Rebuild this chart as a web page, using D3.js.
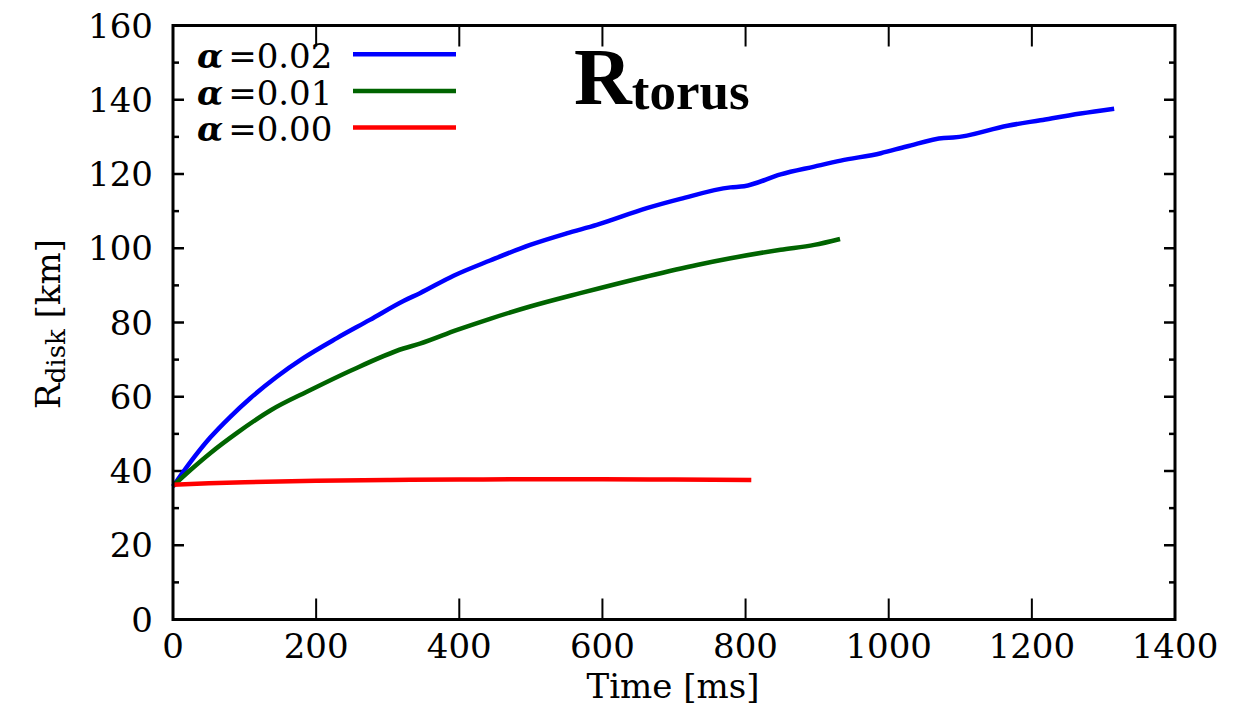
<!DOCTYPE html>
<html>
<head>
<meta charset="utf-8">
<script src="https://cdn.jsdelivr.net/npm/d3@7"></script>
<style>
  html, body { margin: 0; padding: 0; background: #fff; }
  svg { display: block; }
  text { font-family: "DejaVu Serif", serif; fill: #000; }
</style>
</head>
<body>
<svg id="chart" width="1242" height="707"></svg>
<script>
// ---- data ----
const alpha002 = [
  [0, 35.8], [24, 42.3], [52, 49.0], [80, 54.6], [108, 59.6], [145, 65.4],
  [182, 70.4], [229, 75.8], [275, 80.7], [322, 85.8], [345, 87.9], [392, 92.6],
  [443, 96.7], [499, 100.9], [550, 104.0], [592, 106.3], [662, 110.8],
  [709, 113.3], [779, 116.4], [798, 116.7], [849, 119.9], [896, 122.0], [933, 123.6],
  [989, 125.6], [1025, 127.4], [1077, 129.7], [1090, 129.8], [1166, 133.0],
  [1212, 134.5], [1268, 136.3], [1315, 137.6]
];
const alpha001 = [
  [0, 36.0], [24, 40.2], [52, 44.8], [89, 50.2], [136, 56.3], [192, 61.8], [248, 67.0],
  [322, 73.0], [345, 74.3], [397, 78.0], [443, 81.0], [499, 84.3],
  [569, 87.9], [662, 92.4], [732, 95.5], [779, 97.3], [849, 99.6], [896, 100.9],
  [932, 102.5]
];
const alpha000 = [
  [0, 36.3], [50, 36.7], [100, 37.0], [200, 37.4], [300, 37.6], [400, 37.7],
  [500, 37.8], [600, 37.8], [700, 37.7], [808, 37.6]
];
const seriesNames = ["\u03b1", "\u03b1", "\u03b1"];
const seriesValues = ["=0.02", "=0.01", "=0.00"];
const seriesColors = ["#0000ff", "#006400", "#ff0000"];
const xTicks = [0, 200, 400, 600, 800, 1000, 1200, 1400];
const yTicks = [0, 20, 40, 60, 80, 100, 120, 140, 160];
const yMinorTicks = d3.range(0, 161, 10);
const xLabel = "Time [ms]";
const yLabelMain = "R";
const yLabelSub = "disk";
const yLabelUnit = " [km]";
const titleMain = "R";
const titleSub = "torus";

const series = [alpha002, alpha001, alpha000];

// ---- layout ----
const svg = d3.select("#chart");
const L = 173, R = 1175, T = 25.5, B = 619.5;
const x = d3.scaleLinear().domain([0, 1400]).range([L, R]);
const y = d3.scaleLinear().domain([0, 160]).range([B, T]);

const ax = svg.append("g");

// minor y ticks (left & right, inward)
const minor = yMinorTicks.filter(v => v % 20 !== 0);
ax.selectAll("line.ymnl").data(minor).join("line")
  .attr("x1", L).attr("x2", L + 6).attr("y1", d => y(d)).attr("y2", d => y(d))
  .attr("stroke", "#000").attr("stroke-width", 2.5);
ax.selectAll("line.ymnr").data(minor).join("line")
  .attr("x1", R).attr("x2", R - 6).attr("y1", d => y(d)).attr("y2", d => y(d))
  .attr("stroke", "#000").attr("stroke-width", 2.5);
// major y ticks
ax.selectAll("line.ymjl").data(yTicks).join("line")
  .attr("x1", L).attr("x2", L + 11).attr("y1", d => y(d)).attr("y2", d => y(d))
  .attr("stroke", "#000").attr("stroke-width", 2.5);
ax.selectAll("line.ymjr").data(yTicks).join("line")
  .attr("x1", R).attr("x2", R - 11).attr("y1", d => y(d)).attr("y2", d => y(d))
  .attr("stroke", "#000").attr("stroke-width", 2.5);
// major x ticks bottom & top
ax.selectAll("line.xb").data(xTicks).join("line")
  .attr("x1", d => x(d)).attr("x2", d => x(d)).attr("y1", B).attr("y2", B - 21)
  .attr("stroke", "#000").attr("stroke-width", 2);
ax.selectAll("line.xt").data(xTicks).join("line")
  .attr("x1", d => x(d)).attr("x2", d => x(d)).attr("y1", T).attr("y2", T + 21)
  .attr("stroke", "#000").attr("stroke-width", 2);

// tick labels
ax.selectAll("text.yl").data(yTicks).join("text")
  .attr("x", 153).attr("y", d => y(d)).attr("dy", "0.36em")
  .attr("text-anchor", "end").attr("font-size", 34).text(d => d);
ax.selectAll("text.xl").data(xTicks).join("text")
  .attr("x", d => x(d)).attr("y", 658)
  .attr("text-anchor", "middle").attr("font-size", 34).text(d => d);

// axis titles
svg.append("text").attr("x", 673).attr("y", 698).attr("text-anchor", "middle")
  .attr("font-size", 34).text(xLabel);
const yt = svg.append("text")
  .attr("transform", "translate(60,324) rotate(-90)")
  .attr("text-anchor", "middle").attr("font-size", 34);
yt.append("tspan").text(yLabelMain);
yt.append("tspan").attr("font-size", 26).attr("dy", 5).text(yLabelSub);
yt.append("tspan").attr("dy", -5).text(yLabelUnit);

// lines
const line = d3.line().x(d => x(d[0])).y(d => y(d[1])).curve(d3.curveMonotoneX);
const plot = svg.append("g");
series.forEach((s, i) => {
  plot.append("path").datum(s).attr("d", line)
    .attr("fill", "none").attr("stroke", seriesColors[i])
    .attr("stroke-width", 4.5).attr("stroke-linejoin", "round");
});

// frame
svg.append("rect").attr("x", L).attr("y", T).attr("width", R - L).attr("height", B - T)
  .attr("fill", "none").attr("stroke", "#000").attr("stroke-width", 3);

// legend
const legY = [54.3, 91, 127.6];
seriesValues.forEach((v, i) => {
  const t = svg.append("text").attr("x", 197).attr("y", legY[i] + 13.8).attr("font-size", 34);
  t.append("tspan").attr("font-style", "italic").attr("font-weight", "bold").text(seriesNames[i]);
  t.append("tspan").attr("dx", 5).text(v);
  svg.append("line").attr("x1", 353).attr("x2", 456).attr("y1", legY[i]).attr("y2", legY[i])
    .attr("stroke", seriesColors[i]).attr("stroke-width", 4.5);
});

// title
const tt = svg.append("text").attr("x", 574).attr("y", 104)
  .style("font-family", "'Liberation Serif', serif").attr("font-weight", "bold");
tt.append("tspan").attr("font-size", 80).text(titleMain);
tt.append("tspan").attr("font-size", 53).attr("dy", 5).text(titleSub);
</script>
</body>
</html>
